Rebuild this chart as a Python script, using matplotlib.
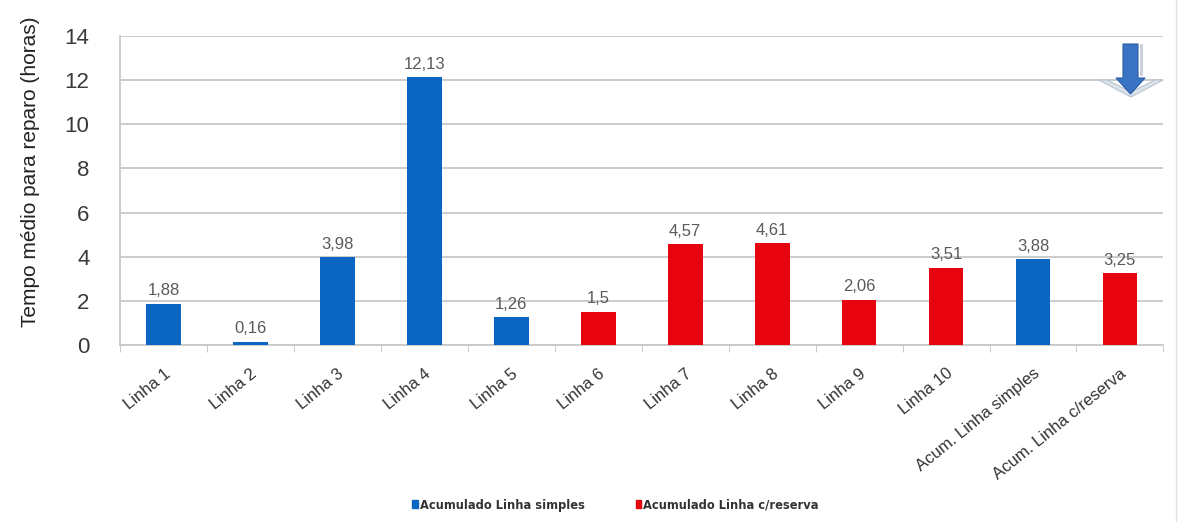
import matplotlib
matplotlib.use("Agg")
import matplotlib.pyplot as plt
from matplotlib import font_manager
from matplotlib.patches import Polygon, Patch
from matplotlib.lines import Line2D
import numpy as np

categories = ["Linha 1", "Linha 2", "Linha 3", "Linha 4", "Linha 5", "Linha 6",
              "Linha 7", "Linha 8", "Linha 9", "Linha 10",
              "Acum. Linha simples", "Acum. Linha c/reserva"]
values = [1.88, 0.16, 3.98, 12.13, 1.26, 1.5, 4.57, 4.61, 2.06, 3.51, 3.88, 3.25]
groups = ["simples", "simples", "simples", "simples", "simples", "reserva",
          "reserva", "reserva", "reserva", "reserva", "simples", "reserva"]
value_labels = ["1,88", "0,16", "3,98", "12,13", "1,26", "1,5",
                "4,57", "4,61", "2,06", "3,51", "3,88", "3,25"]
y_ticks = [0, 2, 4, 6, 8, 10, 12, 14]

BLUE = "#0B65C2"
RED = "#E8040F"
colors = {"simples": BLUE, "reserva": RED}

installed = {f.name for f in font_manager.fontManager.ttflist}
BASE = "Liberation Sans" if "Liberation Sans" in installed else "DejaVu Sans"
if "Liberation Sans Narrow" in installed:
    legend_prop = {"family": "Liberation Sans Narrow", "weight": "bold", "size": 10.8}
else:
    legend_prop = {"family": "DejaVu Sans", "stretch": "condensed",
                   "weight": "bold", "size": 9.2}
plt.rcParams["font.family"] = [BASE, "DejaVu Sans"]

fig = plt.figure(figsize=(11.79, 5.22), dpi=100)
ax = fig.add_axes([0.1018, 0.339, 0.885, 0.592])

x = np.arange(len(categories))
ax.bar(x, values, width=0.4, color=[colors[g] for g in groups], zorder=3)

for xi, v, lab in zip(x, values, value_labels):
    ax.annotate(lab, (xi, v), xytext=(0, 4), textcoords="offset points",
                ha="center", va="bottom", fontsize=12, color="#5a5a5a", zorder=4)

ax.set_xlim(-0.5, len(categories) - 0.5)
ax.set_ylim(0, 14)
ax.set_yticks(y_ticks)
ax.set_yticklabels([str(t) for t in y_ticks], fontsize=16, color="#3a3a3a")
ax.yaxis.grid(True, color="#c8c8c8", linewidth=1.3, zorder=0)
ax.set_axisbelow(True)

ax.set_xticks(x)
ax.set_xticklabels(categories, rotation=39, ha="right", rotation_mode="anchor",
                   fontsize=12, color="#333333")
ax.tick_params(axis="x", length=0, pad=15)
ax.tick_params(axis="y", length=0, pad=22)
# small separator ticks between categories
ax.set_xticks(np.arange(-0.5, len(categories), 1.0), minor=True)
ax.tick_params(axis="x", which="minor", length=5, color="#c0c0c0")

for s in ["top", "right"]:
    ax.spines[s].set_visible(False)
for s in ["left", "bottom"]:
    ax.spines[s].set_color("#c8c8c8")
    ax.spines[s].set_linewidth(1.3)

ax.set_ylabel("Tempo médio para reparo (horas)", fontsize=15, color="#222222")
ax.yaxis.set_label_coords(-0.077, 0.56)

handles = [Patch(color=BLUE, label="Acumulado Linha simples"),
           Patch(color=RED, label="Acumulado Linha c/reserva")]
leg = fig.legend(handles=handles, loc="center", bbox_to_anchor=(0.522, 0.032),
                 ncol=2, frameon=False, handlelength=0.45, handleheight=0.55,
                 handletextpad=0.15, columnspacing=4.0, prop=legend_prop)
for t in leg.get_texts():
    t.set_color("#333333")

# down-arrow badge in the upper right corner
W, H = 1179.0, 522.0
def fp(px, py):
    return (px / W, 1 - py / H)

chevron = Polygon([fp(1099, 80), fp(1131, 97), fp(1163, 80), fp(1155, 80),
                   fp(1131, 92), fp(1107, 80)], closed=True,
                  transform=fig.transFigure, facecolor="#dde3ea",
                  edgecolor="#b8c4d0", linewidth=0.8, zorder=5)
arrow = Polygon([fp(1123, 44), fp(1138, 44), fp(1138, 78), fp(1145, 78),
                 fp(1130.5, 94), fp(1116, 78), fp(1123, 78)], closed=True,
                transform=fig.transFigure, facecolor="#3A73C4",
                edgecolor="#2B5CA6", linewidth=0.8, zorder=6)
edge = Polygon([fp(1140, 44), fp(1143, 44), fp(1143, 76), fp(1140, 76)], closed=True,
               transform=fig.transFigure, facecolor="#c9d2dc", edgecolor="none", zorder=6)
fig.patches.extend([chevron, edge, arrow])

# thin frame line on the right edge
fig.add_artist(Line2D([1175.5 / W, 1175.5 / W], [0, 1], transform=fig.transFigure,
                      color="#e2e2e2", linewidth=1))

fig.savefig("out.png", dpi=100)
